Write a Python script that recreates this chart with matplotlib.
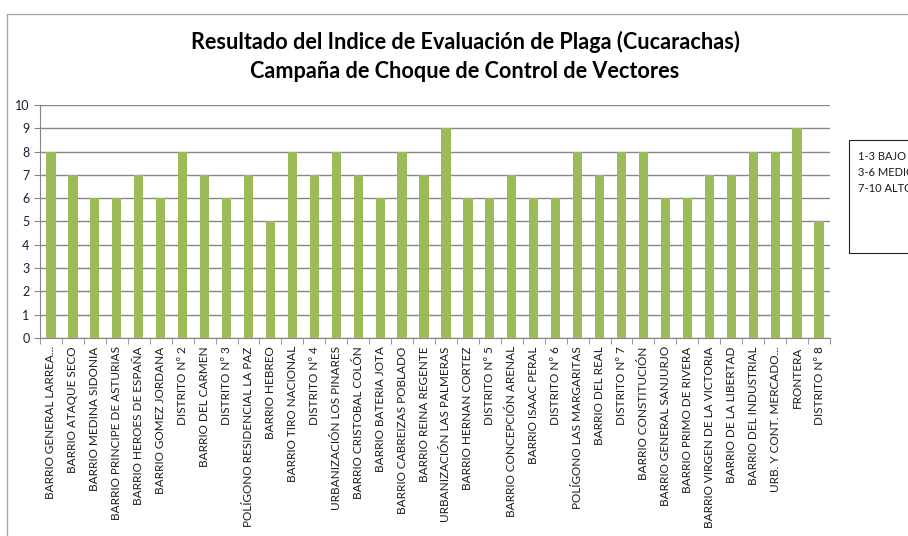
import matplotlib
matplotlib.use("Agg")
import matplotlib.pyplot as plt
from matplotlib.patches import Rectangle
import numpy as np

barrios = ["BARRIO GENERAL LARREA...", "BARRIO ATAQUE SECO", "BARRIO MEDINA SIDONIA",
           "BARRIO PRINCIPE DE ASTURIAS", "BARRIO HEROES DE ESPAÑA", "BARRIO GOMEZ JORDANA",
           "DISTRITO Nº 2", "BARRIO DEL CARMEN", "DISTRITO Nº 3",
           "POLÍGONO RESIDENCIAL LA PAZ", "BARRIO HEBREO", "BARRIO TIRO NACIONAL",
           "DISTRITO Nº 4", "URBANIZACIÓN LOS PINARES", "BARRIO CRISTOBAL COLÓN",
           "BARRIO BATERIA JOTA", "BARRIO CABREIZAS POBLADO", "BARRIO REINA REGENTE",
           "URBANIZACIÓN LAS PALMERAS", "BARRIO HERNAN CORTEZ", "DISTRITO Nº 5",
           "BARRIO CONCEPCIÓN ARENAL", "BARRIO ISAAC PERAL", "DISTRITO Nº 6",
           "POLÍGONO LAS MARGARITAS", "BARRIO DEL REAL", "DISTRITO Nº 7",
           "BARRIO CONSTITUCIÓN", "BARRIO GENERAL SANJURJO", "BARRIO PRIMO DE RIVERA",
           "BARRIO VIRGEN DE LA VICTORIA", "BARRIO DE LA LIBERTAD", "BARRIO DEL INDUSTRIAL",
           "URB. Y CONT. MERCADO...", "FRONTERA", "DISTRITO Nº 8"]
indice = [8, 7, 6, 6, 7, 6, 8, 7, 6, 7, 5, 8, 7, 8, 7, 6, 8, 7, 9, 6, 6, 7, 6, 6,
          8, 7, 8, 8, 6, 6, 7, 7, 8, 8, 9, 5]
leyenda = ["1-3 BAJO", "3-6 MEDIO", "7-10 ALTO"]

plt.rcParams['font.family'] = ['Lato', 'DejaVu Sans']
W, H = 908, 536
fig = plt.figure(figsize=(W / 100, H / 100), dpi=100)
ax = fig.add_axes([40 / W, 1 - 338 / H, 790 / W, 233 / H])

x = np.arange(len(barrios))
ax.bar(x, indice, width=0.42, color="#9BBB59", zorder=3)
ax.set_xlim(-0.5, len(barrios) - 0.5)
ax.set_ylim(0, 10)
ax.set_yticks(range(0, 11))
ax.yaxis.grid(True, color="#868686", linewidth=1, zorder=0)
for s in ["top", "right"]:
    ax.spines[s].set_visible(False)
for s in ["left", "bottom"]:
    ax.spines[s].set_color("#868686")
ax.set_xticks(x)
ax.set_xticklabels(barrios, rotation=90, fontsize=8.5, color="#1a1a1a")
ax.set_xticks(np.arange(-0.5, len(barrios)), minor=True)
ax.tick_params(axis="x", which="major", length=0, pad=6)
ax.tick_params(axis="x", which="minor", length=4, color="#868686")
ax.tick_params(axis="y", length=4, color="#868686", labelsize=9, labelcolor="#1a1a3a")

fig.text(465 / W, 1 - 42 / H, "Resultado del Indice de Evaluación de Plaga (Cucarachas)",
         ha="center", va="center", fontsize=15.6, fontweight="bold")
fig.text(465 / W, 1 - 72 / H, "Campaña de Choque de Control de Vectores",
         ha="center", va="center", fontsize=15.6, fontweight="bold")

# marco exterior y cuadro de leyenda
fig.patches.append(Rectangle((7 / W, -0.1), 1.2, 1 - 14 / H + 0.1, transform=fig.transFigure,
                             fill=False, edgecolor="#a6a6a6", linewidth=1))
fig.patches.append(Rectangle((849 / W, 1 - 253 / H), 0.2, 113 / H, transform=fig.transFigure,
                             fill=False, edgecolor="#222222", linewidth=0.8))
for i, t in enumerate(leyenda):
    fig.text(858 / W, 1 - (157 + i * 16) / H, t, ha="left", va="center", fontsize=8,
             color="#1a1a1a")

fig.savefig("out.png", dpi=100)
